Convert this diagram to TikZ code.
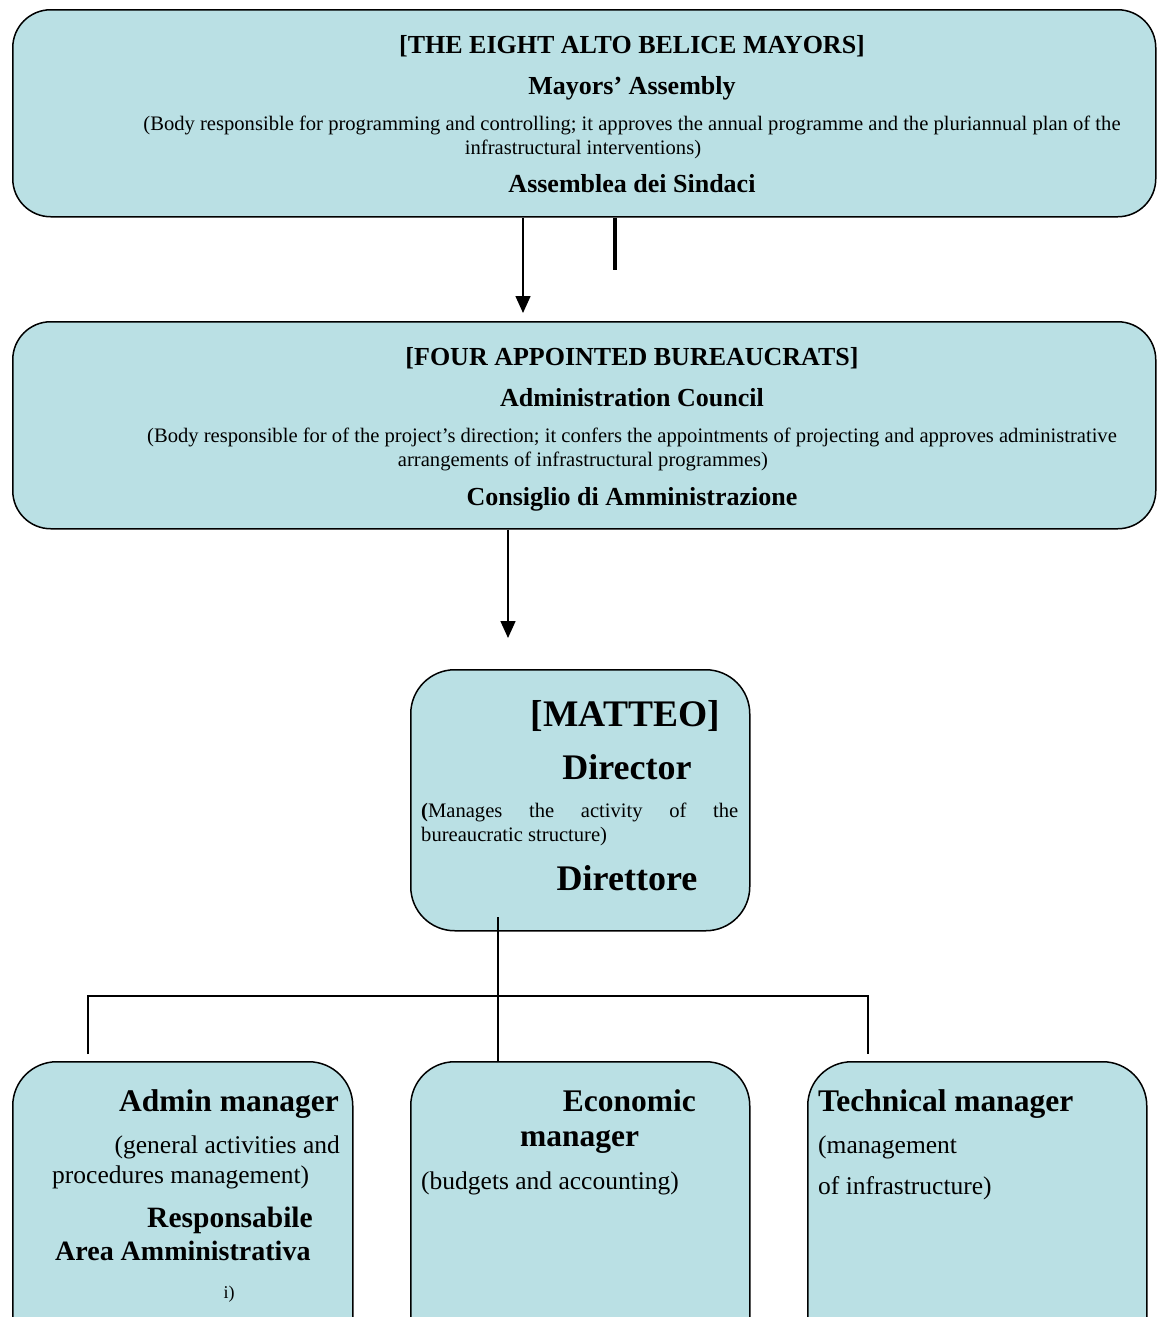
\documentclass[tikz,border=0pt]{standalone}
\usepackage{fontspec}
\setmainfont{Liberation Serif}
\newcommand{\fsz}[1]{\fontsize{#1}{#1}\selectfont}
\definecolor{boxfill}{RGB}{186,224,228}
\tikzset{
  orgbox/.style={draw=black, line width=1.5pt, fill=boxfill, rounded corners=38pt, inner sep=0pt},
  smallbox/.style={orgbox, rounded corners=44pt},
  ttl/.style={font=\fsz{26}\bfseries, anchor=base, inner sep=0pt},
  dsc/.style={font=\fsz{20.6}, anchor=base, inner sep=0pt},
  big/.style={font=\fsz{36}\bfseries, anchor=base, inner sep=0pt},
  mid/.style={font=\fsz{31.5}\bfseries, anchor=base, inner sep=0pt},
  sub/.style={font=\fsz{25.5}, anchor=base, inner sep=0pt},
  link/.style={line width=1.5pt},
  arr/.style={link, -{Triangle[length=17pt,width=15pt]}}
}
\usetikzlibrary{arrows.meta}
\begin{document}
\begin{tikzpicture}[x=1pt,y=-1pt]
\useasboundingbox (0,0) rectangle (1160,1317);

% Mayors' Assembly
\node[orgbox, anchor=north west, minimum width=1143pt, minimum height=207pt] (mayors) at (12,9) {};
\node[ttl] (m1) at (632,53) {[THE EIGHT ALTO BELICE MAYORS]};
\node[ttl] (m2) at (632,94) {Mayors’ Assembly};
\node[dsc] (m3) at (632,130) {(Body responsible for programming and controlling; it approves the annual programme and the pluriannual plan of the};
\node[dsc] (m4) at (583,154) {infrastructural interventions)};
\node[ttl] (m5) at (632,192) {Assemblea dei Sindaci};

% Administration Council
\node[orgbox, anchor=north west, minimum width=1143pt, minimum height=207pt] (council) at (12,321) {};
\node[ttl] (c1) at (632,365) {[FOUR APPOINTED BUREAUCRATS]};
\node[ttl] (c2) at (632,406) {Administration Council};
\node[dsc] (c3) at (632,442) {(Body responsible for of the project’s direction; it confers the appointments of projecting and approves administrative};
\node[dsc] (c4) at (583,466) {arrangements of infrastructural programmes)};
\node[ttl] (c5) at (632,505) {Consiglio di Amministrazione};

% Director
\node[smallbox, anchor=north west, minimum width=339pt, minimum height=261pt] (director) at (410,669) {};
\node[font=\fsz{37.5}\bfseries, anchor=base east, inner sep=0pt] (d1) at (720,726) {[MATTEO]};
\node[big] (d2) at (627,779) {Director};
\node[dsc, anchor=base west] (d3) at (421,817)
  {\makebox[317pt][s]{\textbf{(}Manages the activity of the}};
\node[dsc, anchor=base west] (d3b) at (421,841) {bureaucratic structure)};
\node[big] (d4) at (627,890) {Direttore};

% Managers
\node[smallbox, anchor=north west, minimum width=340pt, minimum height=300pt] (admin) at (12,1061) {};
\node[smallbox, anchor=north west, minimum width=339pt, minimum height=300pt] (econ) at (410,1061) {};
\node[smallbox, anchor=north west, minimum width=339pt, minimum height=300pt] (tech) at (807,1061) {};

\node[mid, anchor=base east] (a1) at (339,1111) {Admin manager};
\node[sub, anchor=base east] (a2) at (340,1153) {(general activities and};
\node[sub, anchor=base west] (a3) at (52,1183) {procedures management)};
\node[mid, font=\fsz{29.5}\bfseries, anchor=base east] (a4) at (313,1227) {Responsabile};
\node[mid, font=\fsz{28}\bfseries, anchor=base west] (a5) at (55,1260) {Area Amministrativa};
\node[font=\fsz{18}, anchor=base, inner sep=0pt] (a6) at (229,1298) {i)};

\node[mid, anchor=base east] (e1) at (696,1111) {Economic};
\node[mid, anchor=base west] (e2) at (520,1146) {manager};
\node[sub, anchor=base west] (e3) at (421,1189) {(budgets and accounting)};

\node[mid, anchor=base west] (t1) at (818,1111) {Technical manager};
\node[sub, anchor=base west] (t2) at (818,1153) {(management};
\node[sub, anchor=base west] (t3) at (818,1194) {of infrastructure)};

% Connectors
\coordinate (arrA) at (523,313);
\coordinate (stub) at (615,270);
\coordinate (arrB) at (508,638);
\coordinate (dirfoot) at (498,917);
\coordinate (busL) at (88,996);
\coordinate (busR) at (868,996);
\coordinate (dropL) at (88,1054);
\coordinate (dropR) at (868,1054);

\draw[arr] (mayors.south -| arrA) -- (arrA);
\draw[line width=4pt] (mayors.south -| stub) -- (stub);
\draw[arr] (council.south -| arrB) -- (arrB);
\draw[link] (dirfoot) -- (econ.north -| dirfoot);
\draw[link] (dropL) -- (busL) -- (busR) -- (dropR);
\end{tikzpicture}
\end{document}
